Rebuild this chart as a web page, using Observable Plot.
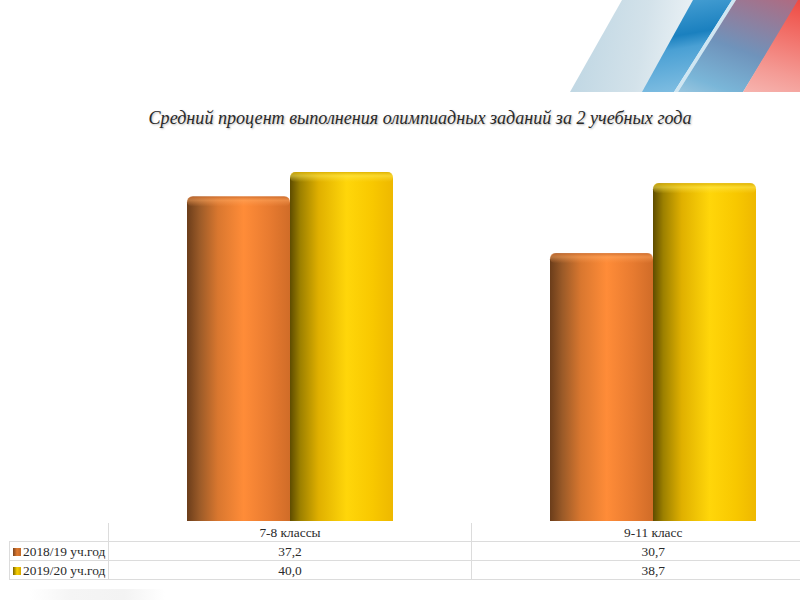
<!DOCTYPE html>
<html><head><meta charset="utf-8">
<script src="https://cdn.jsdelivr.net/npm/d3@7"></script>
<script src="https://cdn.jsdelivr.net/npm/@observablehq/plot@0.6"></script>
<style>
html,body{margin:0;padding:0;background:#fff;width:800px;height:600px;overflow:hidden}
#page{position:relative;width:800px;height:600px;overflow:hidden}
.band{position:absolute;left:560px;top:0;width:240px;height:92px}
#title{position:absolute;left:20px;width:800px;top:108px;text-align:center;font:italic 18.1px "Liberation Serif",serif;color:#2a2a2a;text-shadow:1px 1px 2px #bbb;white-space:nowrap}
#chart{position:absolute;left:0;top:0;line-height:0}
#chart svg{display:block;overflow:hidden}
table{position:absolute;left:9px;top:523px;width:825px;border-collapse:collapse;table-layout:fixed;font:13.4px "Liberation Serif",serif;color:#2a2a2a}
td{height:18px;padding:0;text-align:center;border:1px solid #dcdcdc;line-height:17px}
tr:nth-of-type(1) td{border-top:none}
tr:nth-of-type(1) td:first-child{border-left:none}
td.s{text-align:left;white-space:nowrap;padding-left:3px;box-sizing:border-box}
td:last-child{border-right:none}
.sw{display:inline-block;width:8px;height:8px;margin-right:2px;vertical-align:0}
#smudge{position:absolute;left:30px;top:589px;width:135px;height:11px;background:linear-gradient(90deg,#fff,#f5f5f5 30%,#f3f3f3 70%,#fff)}
</style></head><body>
<div id="page">
<div class="band" style="clip-path:polygon(10px 92px,62px 0,190px 0,110px 92px);background:linear-gradient(100deg,#b9d3e1 0%,#d3e2ea 35%,#ffffff 70%)"></div>
<div class="band" style="clip-path:polygon(82px 92px,133px 0,172px 0,114px 92px);background:linear-gradient(170deg,#5fb0de 0%,#1a80bf 42%,#4aa0d4 52%,#9accE8 100%)"></div>
<div class="band" style="clip-path:polygon(114px 92px,172px 0,176px 0,118px 92px);background:#cfe6f2"></div>
<div class="band" style="clip-path:polygon(118px 92px,176px 0,240px 0,183px 92px);background:linear-gradient(200deg,#b06a80 0%,#6f93bb 40%,#7ab6d8 65%,#dce9f0 100%)"></div>
<div class="band" style="clip-path:polygon(183px 92px,238px 0,240px 0,240px 92px);background:linear-gradient(195deg,#ef4a42 0%,#f49a94 50%,#f9e0dd 100%)"></div>
<div id="title"></div>
<div id="chart"></div>
<div id="tbl"></div>
<div id="smudge"></div>
</div>
<script>
const chartTitle = "Средний процент выполнения олимпиадных заданий за 2 учебных года";
const categories = ["7-8 классы", "9-11 класс"];
const seriesNames = ["2018/19 уч.год", "2019/20 уч.год"];
const series2018 = [37.2, 30.7];
const series2019 = [40.0, 38.7];
const seriesValues = [series2018, series2019];

const rows = seriesNames.flatMap((s, i) =>
  categories.map((c, j) => ({category: c, series: s, value: seriesValues[i][j]})));

document.getElementById("title").textContent = chartTitle;

const gradId = s => s === seriesNames[0] ? "url(#cylA)" : "url(#cylB)";
const defs = () => {
  const ns = "http://www.w3.org/2000/svg";
  const d = document.createElementNS(ns, "defs");
  d.innerHTML = `
  <linearGradient id="cylA" x1="0" x2="1" y1="0" y2="0">
    <stop offset="0" stop-color="#6b3d1a"/><stop offset=".12" stop-color="#9a5a28"/>
    <stop offset=".3" stop-color="#d9772f"/><stop offset=".55" stop-color="#ff8c38"/>
    <stop offset=".8" stop-color="#e87b30"/><stop offset="1" stop-color="#d06c28"/>
  </linearGradient>
  <linearGradient id="cylB" x1="0" x2="1" y1="0" y2="0">
    <stop offset="0" stop-color="#5e4c00"/><stop offset=".1" stop-color="#9c8000"/>
    <stop offset=".28" stop-color="#e0b000"/><stop offset=".55" stop-color="#ffd60a"/>
    <stop offset=".8" stop-color="#f8c800"/><stop offset="1" stop-color="#eeb800"/>
  </linearGradient>
  <linearGradient id="capA" x1="0" x2="0" y1="0" y2="1">
    <stop offset="0" stop-color="#c9682a" stop-opacity=".8"/><stop offset=".4" stop-color="#ffa860" stop-opacity=".5"/>
    <stop offset="1" stop-color="#ff9a50" stop-opacity="0"/>
  </linearGradient>
  <linearGradient id="capB" x1="0" x2="0" y1="0" y2="1">
    <stop offset="0" stop-color="#d9ae00" stop-opacity=".8"/><stop offset=".4" stop-color="#ffe850" stop-opacity=".55"/>
    <stop offset="1" stop-color="#ffe040" stop-opacity="0"/>
  </linearGradient>`;
  return d;
};
const capId = s => s === seriesNames[0] ? "url(#capA)" : "url(#capB)";
const common = {fx: "category", x: "series"};

const chart = Plot.plot({
  width: 800, height: 522,
  marginTop: 0, marginBottom: 1, marginLeft: 107, marginRight: -34,
  style: {background: "transparent"},
  fx: {domain: categories, axis: null, padding: 0},
  x: {domain: seriesNames, axis: null, paddingInner: 0, paddingOuter: 0.762},
  y: {domain: [0, 40], range: [521, 172], axis: null},
  marks: [
    defs,
    ...seriesNames.map(s => Plot.barY(rows.filter(r => r.series === s), {...common, y: "value", fill: gradId(s), rx: 6})),
    ...seriesNames.map(s => Plot.barY(rows.filter(r => r.series === s), {...common, y1: 0, y2: d => d.value - 1, fill: gradId(s)})),
    ...seriesNames.map(s => Plot.barY(rows.filter(r => r.series === s), {...common, y1: "value", y2: "value", insetBottom: -10, fill: capId(s), rx: 5}))
  ]
});
document.getElementById("chart").append(chart);

const swatch = ["linear-gradient(90deg,#7a4520,#e07a30,#c06828)", "linear-gradient(90deg,#7a6400,#f8d000,#d8a800)"];
const table = d3.select("#tbl").append("table");
const cg = table.append("colgroup");
cg.append("col").style("width", "99px");
cg.append("col").style("width", "363px");
cg.append("col").style("width", "363px");
const head = table.append("tr");
head.append("td");
categories.forEach(c => head.append("td").text(c));
seriesNames.forEach((s, i) => {
  const tr = table.append("tr");
  const lab = tr.append("td").attr("class", "s");
  lab.append("span").attr("class", "sw").style("background", swatch[i]);
  lab.append("span").text(s);
  seriesValues[i].forEach(v => tr.append("td").text(v.toFixed(1).replace(".", ",")));
});
</script>
</body></html>
